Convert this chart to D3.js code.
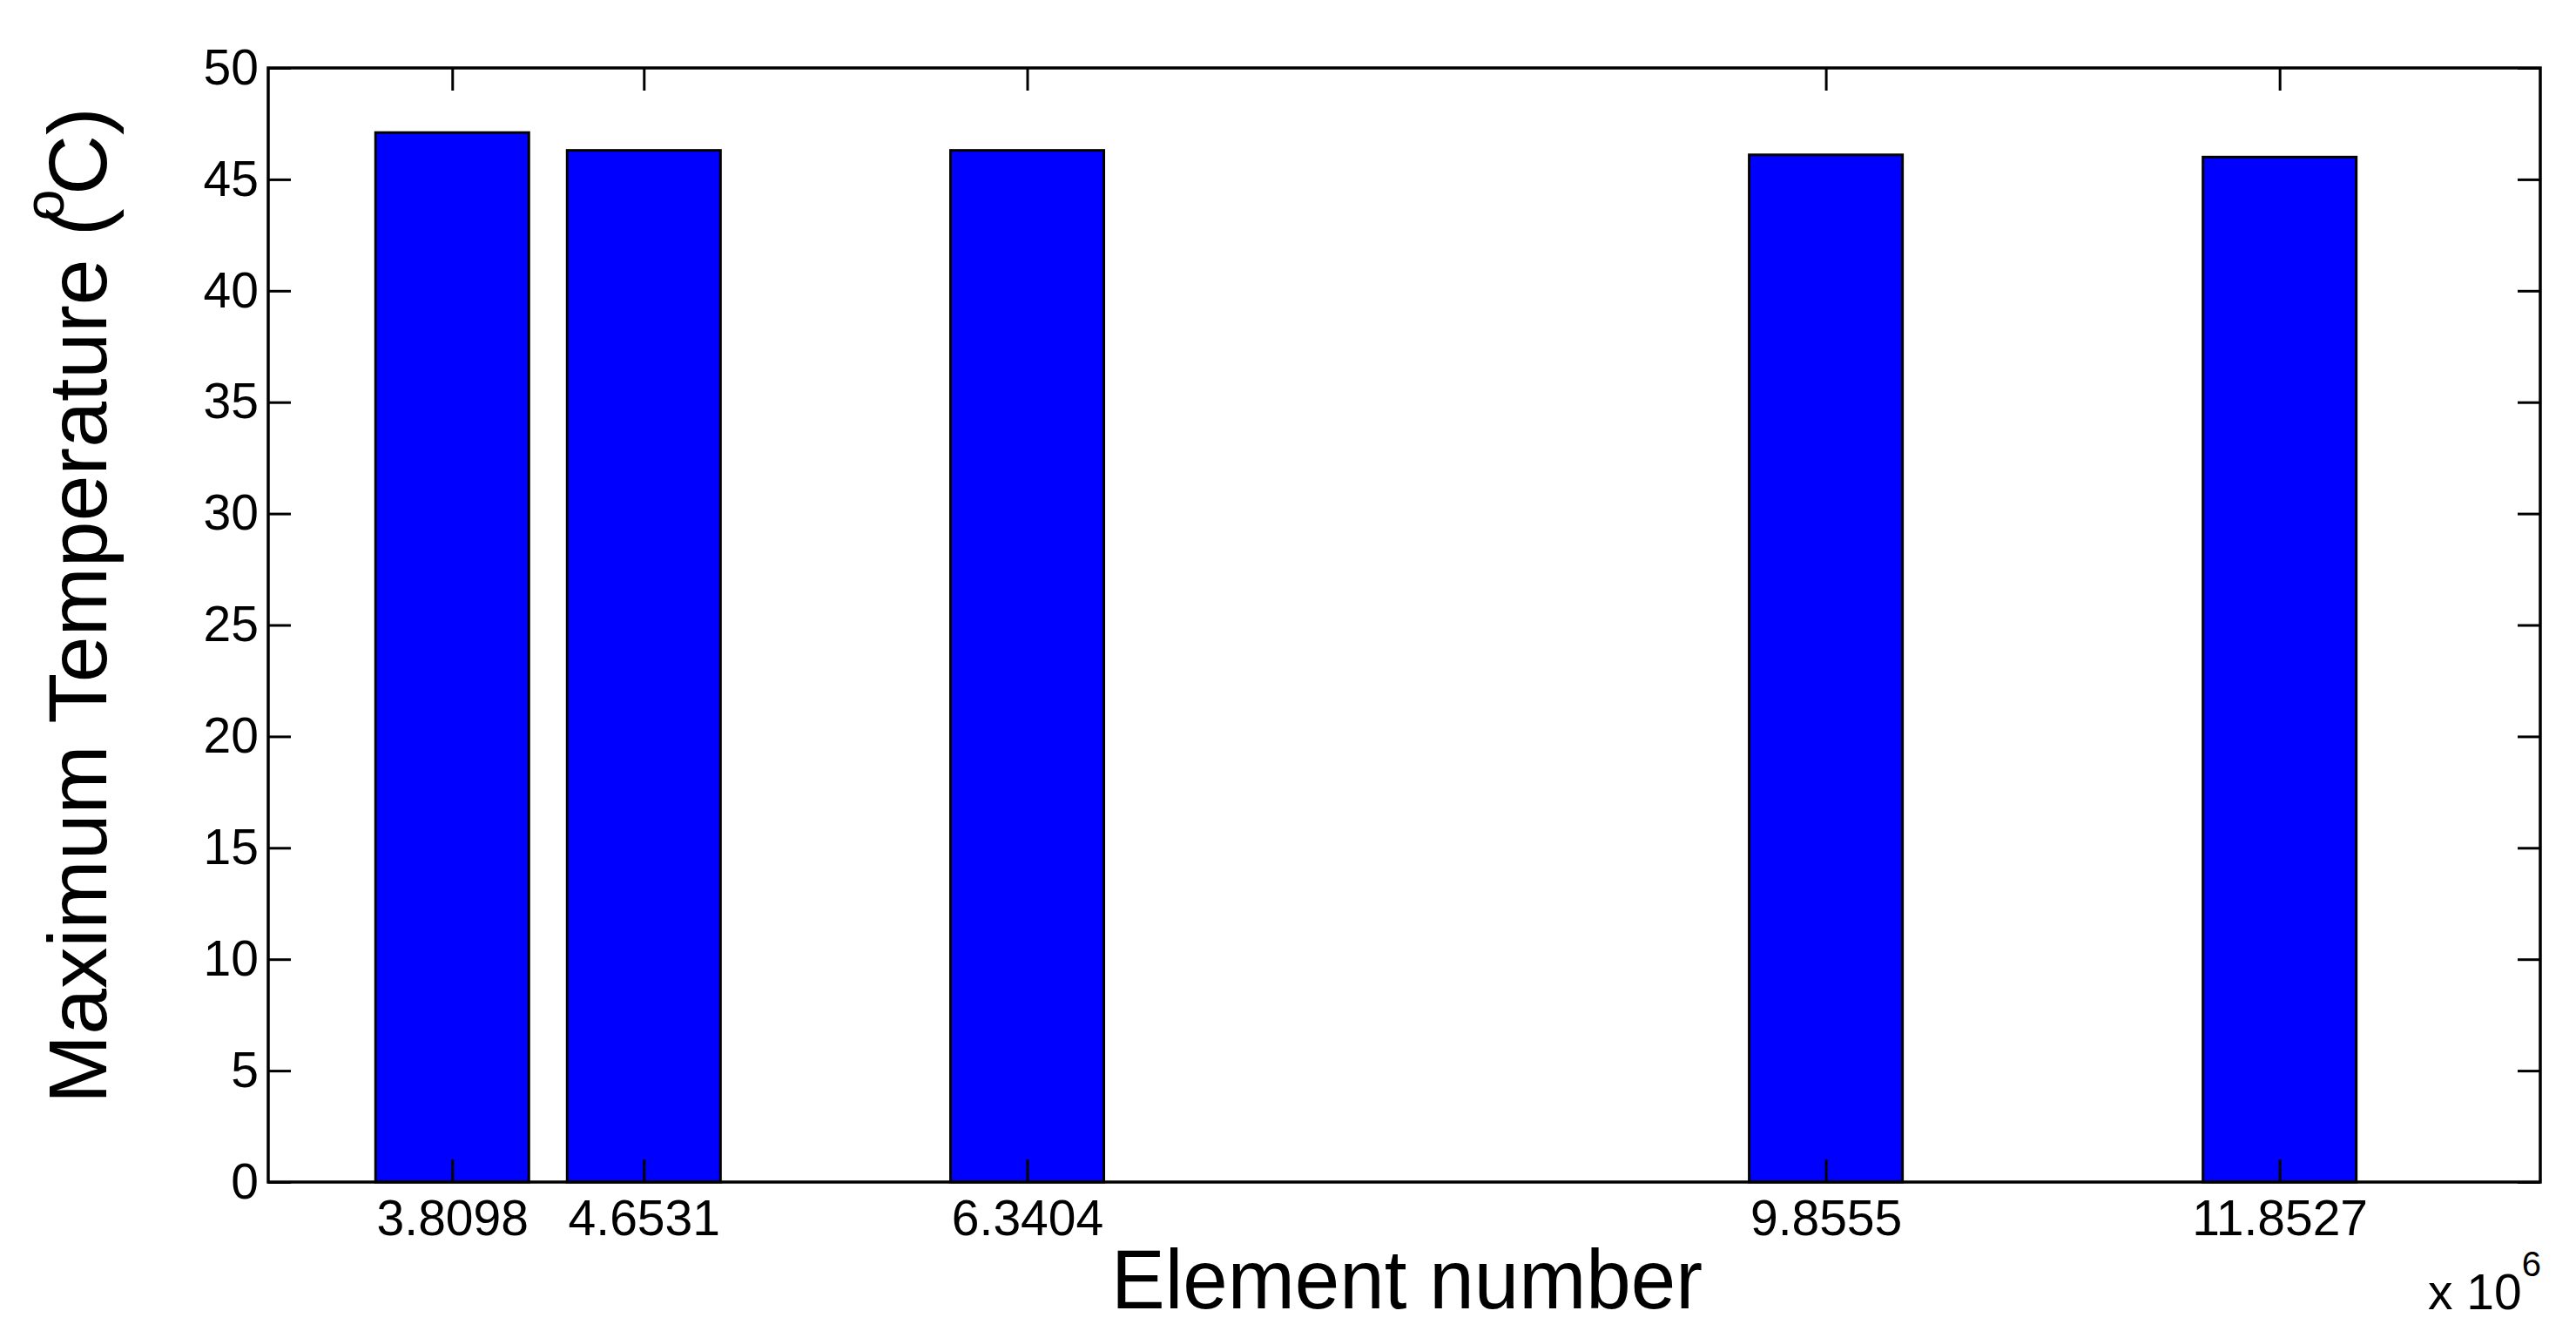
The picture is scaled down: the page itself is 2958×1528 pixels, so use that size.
<!DOCTYPE html>
<head>
  <meta charset="utf-8">
  <script src="https://d3js.org/d3.v7.min.js"></script>
  <style>
    body {
      margin: 0;
      background: #fff;
    }
    svg text {
      font-family: "Liberation Sans", Arial, Helvetica, sans-serif;
      fill: #000;
    }
    .tick line {
      stroke: #000;
      stroke-width: 3;
    }
    .tick text {
      font-size: 57px;
    }
    .bar {
      fill: #0000ff;
      stroke: #000;
      stroke-width: 3;
    }
  </style>
</head>

<body>
  <script>

    // element numbers (x 10^6) and max temperatures
    var elementNumbers = [3.8098, 4.6531, 6.3404, 9.8555, 11.8527];
    var elementLabels = ["3.8098", "4.6531", "6.3404", "9.8555", "11.8527"];
    var maxTemps = [47.1, 46.3, 46.3, 46.1, 46.0];
    var yTicks = [0, 5, 10, 15, 20, 25, 30, 35, 40, 45, 50];
    var xDomain = [3, 13];
    var yDomain = [0, 50];

    var margin = {top: 78, right: 41, bottom: 171, left: 308};
    var width = 2958 - margin.left - margin.right;
    var height = 1528 - margin.top - margin.bottom;
    var tickLen = 26;

    var svg = d3.select("body").append("svg")
        .attr("width", 2958)
        .attr("height", 1528)
      .append("g")
        .attr("transform", "translate(" + margin.left + "," + margin.top + ")");

    var x = d3.scaleLinear().domain(xDomain).range([0, width]);
    var y = d3.scaleLinear().domain(yDomain).range([height, 0]);

    var data = elementNumbers.map(function(d, i) {
      return {x: d, label: elementLabels[i], temp: maxTemps[i]};
    });

    // matlab style bar width: 0.8 of the smallest gap between bars
    var gaps = d3.pairs(elementNumbers).map(function(p) { return p[1] - p[0]; });
    var barW = 0.8 * d3.min(gaps);

    svg.selectAll(".bar")
        .data(data)
      .enter().append("rect")
        .attr("class", "bar")
        .attr("x", function(d) { return x(d.x - barW / 2); })
        .attr("width", function(d) { return x(d.x + barW / 2) - x(d.x - barW / 2); })
        .attr("y", function(d) { return y(d.temp); })
        .attr("height", function(d) { return y(0) - y(d.temp); });

    // axes, ticks pointing inward on all four sides
    svg.append("g")
        .attr("class", "y axis")
        .call(d3.axisLeft(y).tickValues(yTicks).tickSize(-tickLen).tickPadding(11))
        .call(function(g) { g.select(".domain").remove(); });

    svg.append("g")
        .attr("class", "y axis right")
        .attr("transform", "translate(" + width + ",0)")
        .call(d3.axisRight(y).tickValues(yTicks).tickSize(-tickLen).tickFormat(""))
        .call(function(g) { g.select(".domain").remove(); });

    svg.append("g")
        .attr("class", "x axis")
        .attr("transform", "translate(0," + height + ")")
        .call(d3.axisBottom(x).tickValues(elementNumbers).tickSize(-tickLen).tickPadding(21)
          .tickFormat(function(d, i) { return elementLabels[i]; }))
        .call(function(g) { g.select(".domain").remove(); });

    svg.append("g")
        .attr("class", "x axis top")
        .call(d3.axisTop(x).tickValues(elementNumbers).tickSize(-tickLen).tickFormat(""))
        .call(function(g) { g.select(".domain").remove(); });

    svg.append("rect")
        .attr("width", width)
        .attr("height", height)
        .attr("fill", "none")
        .attr("stroke", "#000")
        .attr("stroke-width", 3.5);

    // axis titles
    svg.append("text")
        .attr("x", 1276 - margin.left)
        .attr("y", 1502 - margin.top)
        .attr("textLength", 679)
        .attr("lengthAdjust", "spacingAndGlyphs")
        .style("font-size", "96px")
        .text("Element number");

    var ylab = svg.append("text")
        .attr("transform", "translate(" + (122 - margin.left) + "," + (1267 - margin.top) + ") rotate(-90)")
        .style("font-size", "95px");
    ylab.append("tspan").text("Maximum Temperature (");
    ylab.append("tspan").attr("dy", -49).attr("dx", -14).style("font-size", "64px").text("o");
    ylab.append("tspan").attr("dy", 49).attr("dx", -6).text("C)");

    // exponent note for the x axis
    var expo = svg.append("text")
        .attr("x", 2788 - margin.left)
        .attr("y", 1503 - margin.top)
        .style("font-size", "57px");
    expo.append("tspan").text("x 10");
    expo.append("tspan").attr("dy", -38).style("font-size", "40px").text("6");

  </script>
</body>
